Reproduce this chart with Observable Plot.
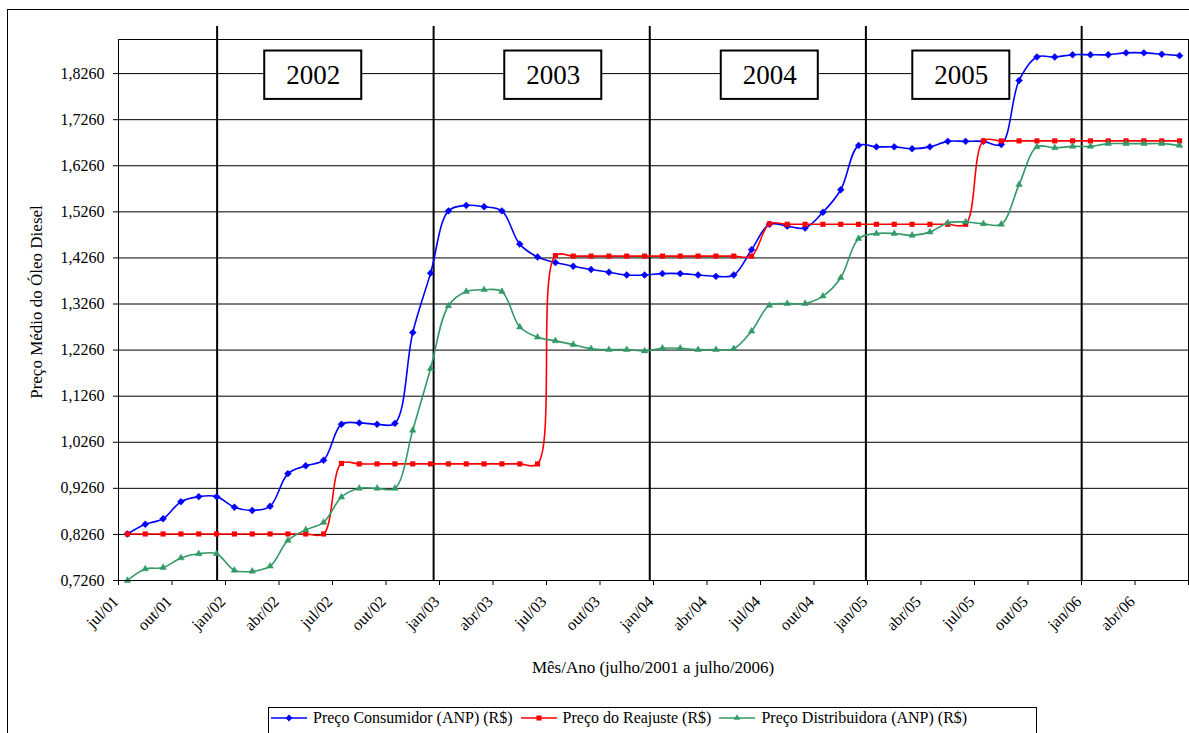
<!DOCTYPE html>
<html><head><meta charset="utf-8">
<script src="https://cdn.jsdelivr.net/npm/d3@7"></script>
<script src="https://cdn.jsdelivr.net/npm/@observablehq/plot@0.6"></script>
<style>
body{margin:0;background:#fff;}
#wrap{position:relative;width:1189px;height:733px;overflow:hidden;background:#fff;font-family:"Liberation Serif","Times New Roman",serif;color:#000;}
#border{position:absolute;left:7px;top:9px;width:1300px;height:900px;border:1.5px solid #000;box-sizing:border-box;}
#chart{position:absolute;left:0;top:0;}
#ytitle{position:absolute;left:37px;top:302px;transform:translate(-50%,-50%) rotate(-90deg);white-space:nowrap;font-size:17px;}
#xtitle{position:absolute;left:653px;top:668px;transform:translate(-50%,-50%);white-space:nowrap;font-size:17px;}
#legend{position:absolute;left:268px;top:707px;width:769px;height:40px;border:1px solid #000;box-sizing:border-box;display:flex;align-items:flex-start;padding:1px 0 0 2px;font-size:16px;white-space:nowrap;}
.item{display:flex;align-items:center;margin-right:8px;}
.item svg{margin-right:6px;}
</style>
</head><body>
<div id="wrap">
  <div id="border"></div>
  <div id="chart"></div>
  <div id="ytitle">Preço Médio do Óleo Diesel</div>
  <div id="xtitle">Mês/Ano (julho/2001 a julho/2006)</div>
  <div id="legend"></div>
</div>
<script>
// ---- data ----
const categories = [
  "jul/01","ago/01","set/01","out/01","nov/01","dez/01",
  "jan/02","fev/02","mar/02","abr/02","mai/02","jun/02","jul/02","ago/02","set/02","out/02","nov/02","dez/02",
  "jan/03","fev/03","mar/03","abr/03","mai/03","jun/03","jul/03","ago/03","set/03","out/03","nov/03","dez/03",
  "jan/04","fev/04","mar/04","abr/04","mai/04","jun/04","jul/04","ago/04","set/04","out/04","nov/04","dez/04",
  "jan/05","fev/05","mar/05","abr/05","mai/05","jun/05","jul/05","ago/05","set/05","out/05","nov/05","dez/05",
  "jan/06","fev/06","mar/06","abr/06","mai/06","jun/06"
];
const consumidor = [
  0.827,0.848,0.860,0.897,0.908,0.908,0.885,0.878,0.887,0.958,0.975,0.987,
  1.065,1.068,1.065,1.067,1.264,1.393,1.528,1.540,1.537,1.528,1.456,1.428,
  1.416,1.408,1.401,1.395,1.389,1.389,1.392,1.392,1.389,1.386,1.389,1.444,
  1.499,1.495,1.491,1.525,1.574,1.670,1.667,1.667,1.663,1.667,1.679,1.679,
  1.679,1.672,1.811,1.862,1.862,1.867,1.867,1.867,1.871,1.871,1.868,1.865
];
const reajuste = [
  0.827,0.827,0.827,0.827,0.827,0.827,0.827,0.827,0.827,0.827,0.827,0.827,
  0.980,0.979,0.979,0.979,0.979,0.979,0.979,0.979,0.979,0.979,0.979,0.979,
  1.431,1.430,1.430,1.430,1.430,1.430,1.430,1.430,1.430,1.430,1.430,1.430,
  1.500,1.499,1.499,1.499,1.499,1.499,1.499,1.499,1.499,1.499,1.499,1.499,
  1.680,1.680,1.680,1.680,1.680,1.680,1.680,1.680,1.680,1.680,1.680,1.680
];
const distribuidora = [
  0.726,0.751,0.754,0.775,0.784,0.784,0.748,0.746,0.757,0.813,0.836,0.852,
  0.907,0.926,0.926,0.926,1.052,1.186,1.322,1.353,1.357,1.353,1.276,1.254,
  1.246,1.238,1.229,1.227,1.227,1.224,1.230,1.230,1.227,1.227,1.229,1.267,
  1.323,1.327,1.327,1.343,1.383,1.468,1.479,1.479,1.475,1.482,1.502,1.504,
  1.500,1.499,1.585,1.667,1.665,1.668,1.668,1.674,1.674,1.674,1.674,1.670
];
const seriesNames = ["Preço Consumidor (ANP) (R$)","Preço do Reajuste (R$)","Preço Distribuidora (ANP) (R$)"];
const seriesColors = ["#0000FF","#FF0000","#339966"];
const seriesSymbols = ["diamond2","square","triangle2"];
const yTicks = [0.726,0.826,0.926,1.026,1.126,1.226,1.326,1.426,1.526,1.626,1.726,1.826];
const xTickLabels = ["jul/01","out/01","jan/02","abr/02","jul/02","out/02","jan/03","abr/03","jul/03","out/03",
  "jan/04","abr/04","jul/04","out/04","jan/05","abr/05","jul/05","out/05","jan/06","abr/06"];
const yearLabels = ["2002","2003","2004","2005"];
const yearLabelPos = [10.42, 23.88, 36.02, 46.76];   // in month index units
const yearLinePos = [5.03, 17.17, 29.29, 41.41, 53.51];

// ---- build ----
const FONT = "'Liberation Serif','Times New Roman',serif";
const seriesValues = [consumidor, reajuste, distribuidora];
const rows = [];
seriesValues.forEach((vals, s) => vals.forEach((v, i) => rows.push({i, v, s, month: categories[i]})));
const labelIdx = xTickLabels.map(l => categories.indexOf(l));
const boundaryTicks = d3.range(0, categories.length + 1, 3).map(k => k - 0.5);
const fmt = d => d.toFixed(4).replace(".", ",");
const yMin = 0.726, yMax = 1.9;
const boxHalfW = 2.72, boxY1 = 1.770, boxY2 = 1.875, boxYc = 1.8215;

const marks = [
  Plot.ruleY(yTicks, {stroke: "black", strokeWidth: 1}),
  Plot.ruleX(yearLinePos, {x: d => d, y1: () => yMin, y2: () => yMax + 0.028, stroke: "black", strokeWidth: 2})
];
seriesValues.forEach((vals, s) => {
  const d = rows.filter(r => r.s === s);
  marks.push(Plot.line(d, {x: "i", y: "v", stroke: seriesColors[s], strokeWidth: 1.6, curve: "catmull-rom"}));
  marks.push(Plot.dot(d, {x: "i", y: "v", symbol: () => seriesSymbols[s], fill: seriesColors[s],
    stroke: s === 1 ? "none" : seriesColors[s], strokeWidth: 0.5, r: s === 1 ? 2.9 : 3.1}));
});
marks.push(
  Plot.frame({stroke: "black", strokeWidth: 1}),
  Plot.axisY({ticks: yTicks, tickFormat: fmt, tickSize: 5, tickPadding: 9, fontSize: 16, label: null, fontFamily: FONT}),
  Plot.axisX({ticks: boundaryTicks, tickFormat: () => "", tickSize: 5, label: null}),
  Plot.text(labelIdx, {x: d => d - 0.5, frameAnchor: "bottom", text: (d, k) => xTickLabels[k],
    rotate: -45, textAnchor: "end", dy: 22, dx: 1, fontSize: 16, fontFamily: FONT}),
  Plot.rect(yearLabelPos, {x1: d => d - boxHalfW, x2: d => d + boxHalfW, y1: () => boxY1, y2: () => boxY2,
    fill: "white", stroke: "black", strokeWidth: 2}),
  Plot.text(yearLabelPos, {x: d => d, y: () => boxYc, text: (d, k) => yearLabels[k], fontSize: 27, fontFamily: FONT})
);

const chart = Plot.plot({
  width: 1189, height: 690,
  marginLeft: 118, marginRight: 1, marginTop: 39, marginBottom: 110,
  x: {domain: [-0.5, categories.length - 0.5], axis: null},
  y: {domain: [yMin, yMax], axis: null},
  symbol: {type: "identity"},
  style: {fontFamily: FONT, fontSize: "16px", color: "black", background: "transparent", overflow: "visible"},
  marks
});
document.getElementById("chart").appendChild(chart);

// ---- legend ----
const legend = document.getElementById("legend");
seriesNames.forEach((name, s) => {
  const item = document.createElement("div");
  item.className = "item";
  const symType = {diamond2: d3.symbolDiamond2, square: d3.symbolSquare, triangle2: d3.symbolTriangle2}[seriesSymbols[s]];
  const path = d3.symbol(symType, s === 1 ? 26 : 30)();
  item.innerHTML = `<svg width="36" height="14"><line x1="0" y1="7" x2="36" y2="7" stroke="${seriesColors[s]}" stroke-width="1.6"/>` +
    `<path transform="translate(18,7)" d="${path}" fill="${seriesColors[s]}"/></svg><span>${name}</span>`;
  legend.appendChild(item);
});
</script>
</body></html>
